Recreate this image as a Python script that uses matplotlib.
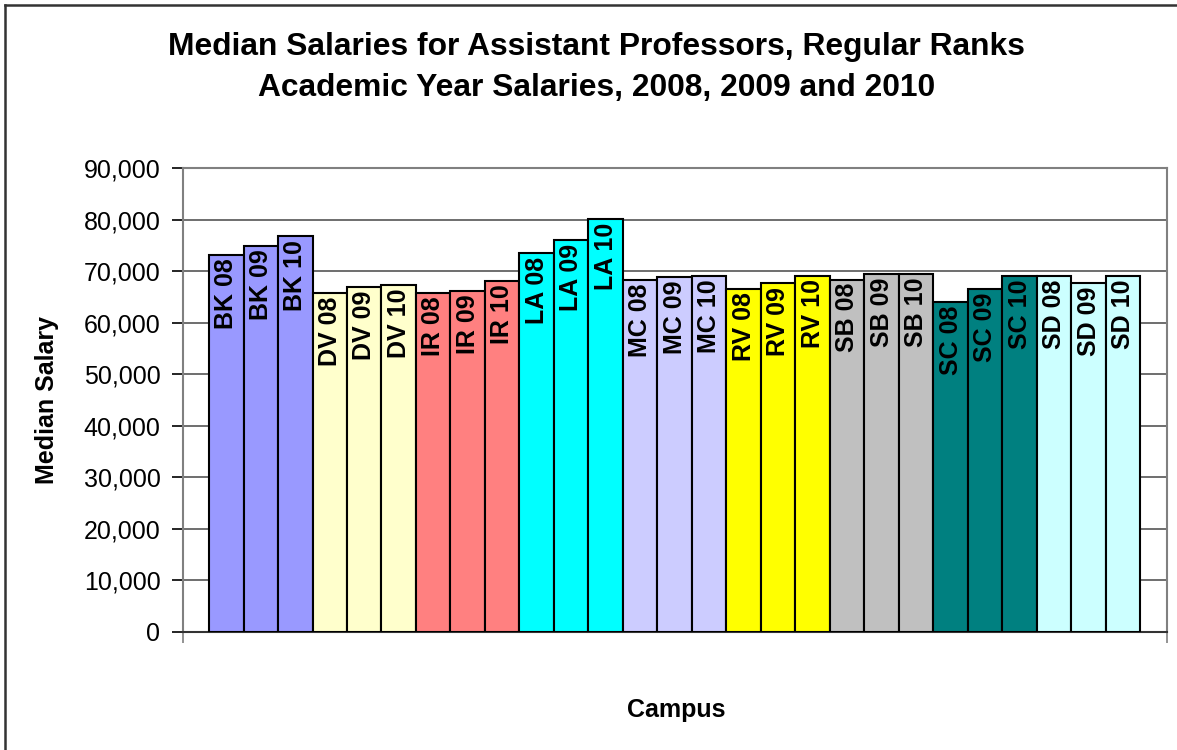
import matplotlib
matplotlib.use("Agg")
import matplotlib.pyplot as plt
from matplotlib.lines import Line2D

campuses = ["BK", "DV", "IR", "LA", "MC", "RV", "SB", "SC", "SD"]
years = ["08", "09", "10"]
campus_colors = ["#9999FF", "#FFFFCC", "#FF8080", "#00FFFF", "#CCCCFF",
                 "#FFFF00", "#C0C0C0", "#008080", "#CCFFFF"]
salaries = [
    73200, 75000, 76800,   # BK
    65800, 67000, 67300,   # DV
    65800, 66200, 68100,   # IR
    73500, 76050, 80100,   # LA
    68350, 68850, 69150,   # MC
    66650, 67700, 69150,   # RV
    68400, 69500, 69500,   # SB
    64100, 66650, 69150,   # SC
    69150, 67650, 69150,   # SD
]
labels = [f"{c} {y}" for c in campuses for y in years]
colors = [col for col in campus_colors for _ in years]
yticks = list(range(0, 90001, 10000))

plt.rcParams['font.family'] = ['Liberation Sans', 'DejaVu Sans']

W, H = 1177, 750
fig = plt.figure(figsize=(W / 100, H / 100), dpi=100)
ax = fig.add_axes([182.7 / W, 1 - 631.7 / H, (1166.7 - 182.7) / W, (631.7 - 168.3) / H])

x = list(range(len(salaries)))
ax.bar(x, salaries, width=1.0, color=colors, edgecolor="black", linewidth=1.5, zorder=3)
for xi, v, lab in zip(x, salaries, labels):
    ax.text(xi, v - 700, lab, rotation=90, ha="center", va="top",
            fontsize=18, fontweight="bold", color="black", zorder=4)

ax.set_xlim(-0.5 - 0.763, len(salaries) - 0.5 + 0.763)
ax.set_ylim(0, 90000)
ax.set_yticks(yticks)
ax.set_yticklabels([f"{t:,}" for t in yticks], fontsize=18)
ax.tick_params(axis="y", direction="out", length=8, width=1.2, color="black", pad=8)
ax.set_xticks([ax.get_xlim()[0], ax.get_xlim()[1]])
ax.set_xticklabels(["", ""])
ax.tick_params(axis="x", direction="out", length=8, width=1.2, color="#808080")
ax.yaxis.grid(True, color="#555555", linewidth=1.2, zorder=0)
ax.set_axisbelow(True)
for side in ["top", "right", "left"]:
    ax.spines[side].set_color("#808080")
    ax.spines[side].set_linewidth(1.5)
ax.spines["bottom"].set_color("#333333")
ax.spines["bottom"].set_linewidth(1.5)

fig.text(596.5 / W, 1 - 47 / H, "Median Salaries for Assistant Professors, Regular Ranks",
         ha="center", va="center", fontsize=22.9, fontweight="bold")
fig.text(596.5 / W, 1 - 88 / H, "Academic Year Salaries, 2008, 2009 and 2010",
         ha="center", va="center", fontsize=22.9, fontweight="bold")
fig.text(47 / W, 1 - 400 / H, "Median Salary", rotation=90, ha="center", va="center",
         fontsize=18, fontweight="bold")
fig.text(676.5 / W, 1 - 710 / H, "Campus", ha="center", va="center",
         fontsize=18, fontweight="bold")

# chart-area border (top and left visible)
fig.add_artist(Line2D([4.7 / W, 1.0], [1 - 4.7 / H, 1 - 4.7 / H], transform=fig.transFigure,
                      color="#333333", linewidth=1.8))
fig.add_artist(Line2D([4.7 / W, 4.7 / W], [0, 1 - 4.7 / H], transform=fig.transFigure,
                      color="#333333", linewidth=1.8))

fig.savefig("out.png", dpi=100)
